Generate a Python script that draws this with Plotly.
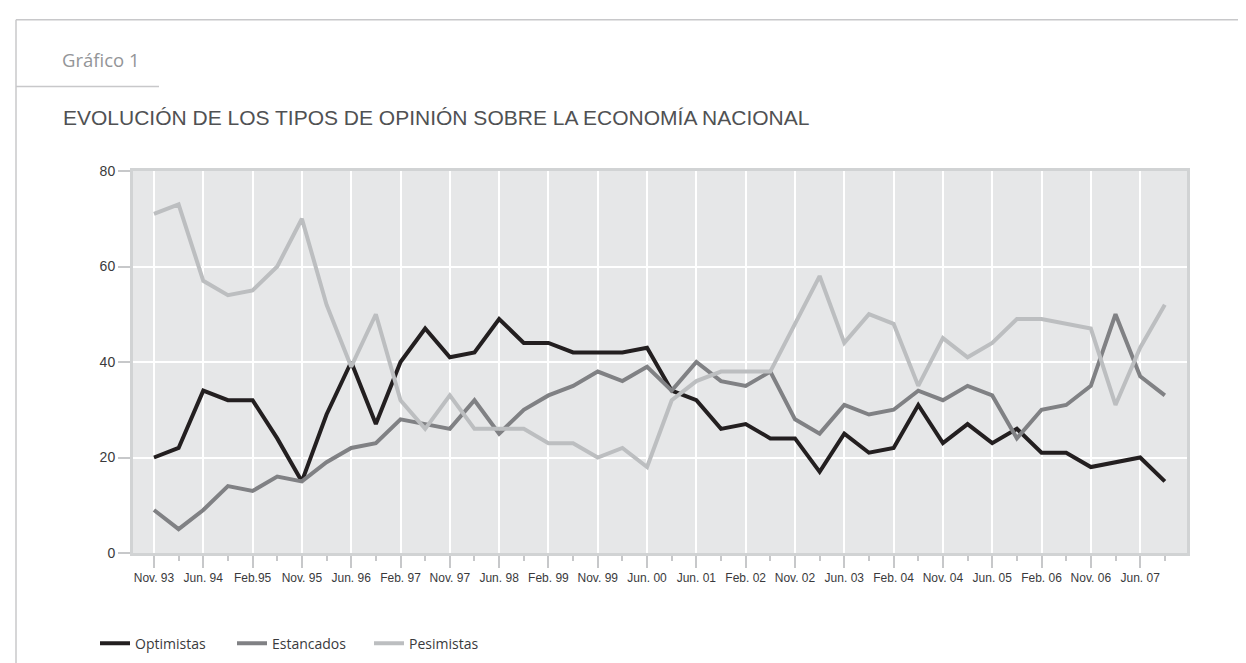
import plotly.graph_objects as go

# ---- data ----
tick_labels = ["Nov. 93", "Jun. 94", "Feb.95", "Nov. 95", "Jun. 96", "Feb. 97", "Nov. 97",
               "Jun. 98", "Feb. 99", "Nov. 99", "Jun. 00", "Jun. 01", "Feb. 02", "Nov. 02",
               "Jun. 03", "Feb. 04", "Nov. 04", "Jun. 05", "Feb. 06", "Nov. 06", "Jun. 07"]
optimistas = [20, 22, 34, 32, 32, 24, 15, 29, 40, 27, 40, 47, 41, 42, 49, 44, 44, 42, 42, 42,
              43, 34, 32, 26, 27, 24, 24, 17, 25, 21, 22, 31, 23, 27, 23, 26, 21, 21, 18, 19,
              20, 15]
estancados = [9, 5, 9, 14, 13, 16, 15, 19, 22, 23, 28, 27, 26, 32, 25, 30, 33, 35, 38, 36,
              39, 34, 40, 36, 35, 38, 28, 25, 31, 29, 30, 34, 32, 35, 33, 24, 30, 31, 35, 50,
              37, 33]
pesimistas = [71, 73, 57, 54, 55, 60, 70, 52, 39, 50, 32, 26, 33, 26, 26, 26, 23, 23, 20, 22,
              18, 32, 36, 38, 38, 38, 48, 58, 44, 50, 48, 35, 45, 41, 44, 49, 49, 48, 47, 31,
              43, 52]
series_names = ["Optimistas", "Estancados", "Pesimistas"]
series_colors = ["#231f20", "#808184", "#bcbec0"]

x = list(range(len(optimistas)))
tickvals = list(range(0, 2 * len(tick_labels), 2))

W, H = 1246, 663
L, R, T, B = 125, 67, 163, 116
PW, PH = W - L - R, H - T - B


def px(xp):
    return (xp - L) / PW


def py(yp):
    return (H - B - yp) / PH


fig = go.Figure()
for name, vals, col in zip(series_names, [optimistas, estancados, pesimistas], series_colors):
    fig.add_trace(go.Scatter(x=x, y=vals, mode="lines", name=name,
                             line=dict(color=col, width=4)))

tick_font = dict(family="Liberation Sans Narrow, Arial Narrow, Liberation Sans, sans-serif",
                 size=12, color="#3a3a3c")

fig.update_layout(
    width=W, height=H,
    margin=dict(l=L, r=R, t=T, b=B),
    paper_bgcolor="white",
    plot_bgcolor="#e6e7e8",
    showlegend=True,
    legend=dict(orientation="h", x=px(87), xanchor="left", y=py(638), yanchor="middle",
                entrywidth=92, entrywidthmode="pixels",
                font=dict(family="Open Sans, sans-serif", size=14, color="#3a3a3c"),
                bgcolor="rgba(0,0,0,0)"),
    xaxis=dict(range=[-0.85, 41.9], tickmode="array", tickvals=tickvals, ticktext=tick_labels,
               showgrid=True, gridcolor="white", gridwidth=1.5,
               showline=True, linecolor="#d1d3d4", linewidth=3, mirror=True,
               ticks="outside", ticklen=12, tickwidth=1.5, tickcolor="#c7c8ca",
               tickfont=tick_font, zeroline=False,
               minor=dict(tickmode="linear", tick0=0, dtick=1, ticks="outside", ticklen=5,
                          tickwidth=1.5, tickcolor="#c7c8ca", showgrid=False)),
    yaxis=dict(range=[0, 80], tickvals=[0, 20, 40, 60, 80],
               showgrid=True, gridcolor="white", gridwidth=1.5,
               showline=True, linecolor="#d1d3d4", linewidth=3, mirror=True,
               ticks="outside", ticklen=12, tickwidth=1.5, tickcolor="#c7c8ca",
               tickfont=dict(family="Liberation Sans Narrow, Arial Narrow, Liberation Sans, sans-serif",
                             size=14, color="#3a3a3c"),
               zeroline=False),
)

frame_col = "#c8c8ca"
fig.add_shape(type="line", xref="paper", yref="paper", x0=px(8), x1=px(1246), y0=py(11), y1=py(11),
              line=dict(color=frame_col, width=1.5))
fig.add_shape(type="line", xref="paper", yref="paper", x0=px(8), x1=px(8), y0=py(11), y1=py(663),
              line=dict(color=frame_col, width=1.5))
fig.add_shape(type="line", xref="paper", yref="paper", x0=px(8), x1=px(151), y0=py(78), y1=py(78),
              line=dict(color=frame_col, width=1.5))

fig.add_annotation(text="Gráfico 1", xref="paper", yref="paper", x=px(52), y=py(51),
                   xanchor="left", yanchor="middle", showarrow=False,
                   font=dict(family="Open Sans, sans-serif", size=18.5, color="#939598"))
fig.add_annotation(text="EVOLUCIÓN DE LOS TIPOS DE OPINIÓN SOBRE LA ECONOMÍA NACIONAL",
                   xref="paper", yref="paper", x=px(53), y=py(109),
                   xanchor="left", yanchor="middle", showarrow=False,
                   font=dict(family="Liberation Sans Narrow, Arial Narrow, Liberation Sans, sans-serif",
                             size=21, color="#505153"))

fig.write_html("out.html")
